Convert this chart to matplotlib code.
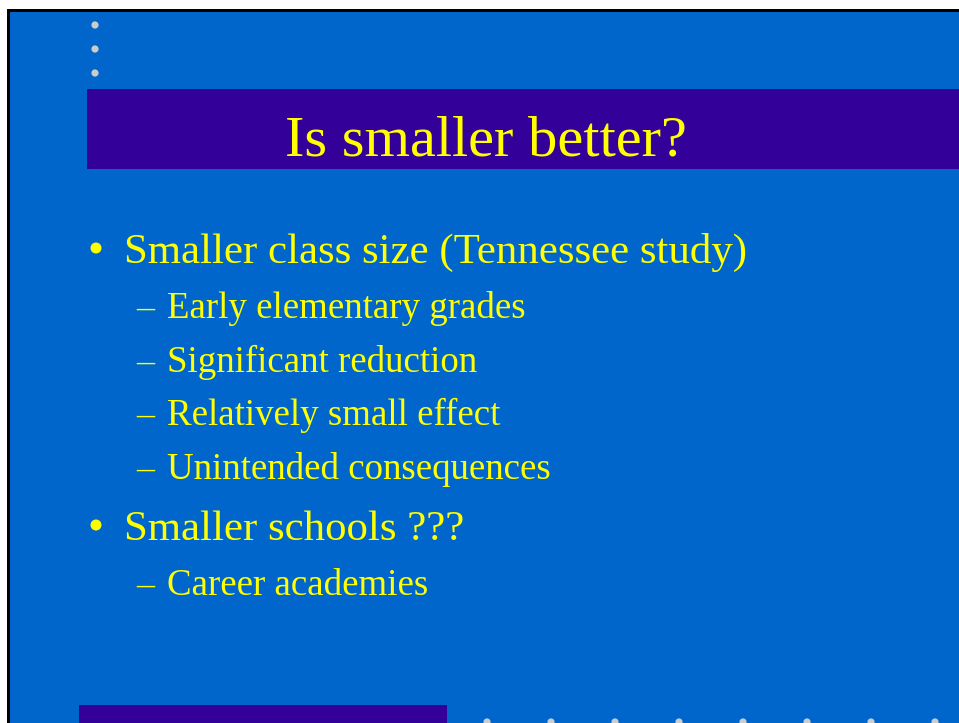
import matplotlib
matplotlib.use("Agg")
import matplotlib.pyplot as plt
from matplotlib.patches import Rectangle, Circle

# contenido de la diapositiva
titulo = "Is smaller better?"
nivel1 = ["Smaller class size (Tennessee study)", "Smaller schools ???"]
nivel1_y = [263, 540]
nivel2 = ["Early elementary grades", "Significant reduction",
          "Relatively small effect", "Unintended consequences",
          "Career academies"]
nivel2_y = [318, 372, 425, 479, 595]
puntos_arriba_y = [25, 49, 73]
puntos_abajo_x = [487, 551, 615, 679, 743, 807, 871, 935]

AZUL = "#0066CC"
MORADO = "#330099"
AMARILLO = "#FFFF00"
GRIS = "#CCCCCC"

W, H = 959, 723
fig = plt.figure(figsize=(W / 100, H / 100), dpi=100)
ax = fig.add_axes([0, 0, 1, 1])
ax.set_xlim(0, W)
ax.set_ylim(H, 0)
ax.axis("off")

# fondo y borde
ax.add_patch(Rectangle((7, 9), W, H, facecolor="black", edgecolor="none"))
ax.add_patch(Rectangle((10, 12), W, H, facecolor=AZUL, edgecolor="none"))

# barras moradas
ax.add_patch(Rectangle((87, 89), W - 87, 80, facecolor=MORADO, edgecolor="none"))
ax.add_patch(Rectangle((79, 705), 447 - 79, 30, facecolor=MORADO, edgecolor="none"))

# puntitos grises
for y in puntos_arriba_y:
    ax.add_patch(Circle((95, y), 3.6, facecolor=GRIS, edgecolor="none"))
for x in puntos_abajo_x:
    ax.add_patch(Circle((x, 722), 3.6, facecolor=GRIS, edgecolor="none"))

fuente = "Liberation Serif"
ax.text(486, 155, titulo, color=AMARILLO, fontsize=42.1, family=fuente,
        ha="center", va="baseline")

for txt, y in zip(nivel1, nivel1_y):
    # viñeta redonda
    ax.add_patch(Circle((96, y - 15), 5.5, facecolor=AMARILLO, edgecolor="none"))
    ax.text(124, y, txt, color=AMARILLO, fontsize=30.9, family=fuente,
            ha="left", va="baseline")

for txt, y in zip(nivel2, nivel2_y):
    ax.text(136, y, "–", color=AMARILLO, fontsize=26, family=fuente,
            ha="left", va="baseline")
    ax.text(167, y, txt, color=AMARILLO, fontsize=26.6, family=fuente,
            ha="left", va="baseline")

fig.savefig("out.png", dpi=100, facecolor="white")
